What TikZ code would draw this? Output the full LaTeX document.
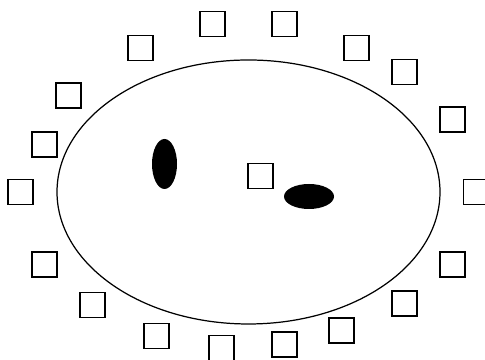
\documentclass[tikz,border=0pt]{standalone}
\usepackage{tikz}
\usetikzlibrary{shapes.geometric}
\tikzset{
  sq/.style={draw, line width=0.8pt, minimum size=0.5cm, inner sep=0pt},
  cell/.style={draw, ellipse, line width=0.7pt, minimum width=7.66cm, minimum height=5.28cm, inner sep=0pt},
  blob/.style={ellipse, fill=black, inner sep=0pt},
}

\begin{document}
\begin{tikzpicture}
  \useasboundingbox (0,0) rectangle (9.7,7.2);
  % the cell and what is inside it
  \node[cell] (body) at (4.97,3.36) {};
  \node[blob, minimum width=0.5cm, minimum height=1.0cm] (bl) at (3.29,3.92) {};
  \node[blob, minimum width=1.0cm, minimum height=0.5cm] (br) at (6.18,3.27) {};
  \node[sq] (sc) at (5.21,3.68) {};
  % ring of squares
  \node[sq] (s1) at (4.25,6.72) {};
  \node[sq] (s2) at (2.81,6.24) {};
  \node[sq] (s3) at (1.37,5.29) {};
  \node[sq] (s4) at (0.89,4.31) {};
  \node[sq] (s5) at (0.41,3.36) {};
  \node[sq] (s6) at (0.89,1.91) {};
  \node[sq] (s7) at (1.85,1.10) {};
  \node[sq] (s8) at (3.13,0.48) {};
  \node[sq] (s9) at (4.43,0.24) {};
  \node[sq] (s10) at (5.69,0.31) {};
  \node[sq] (s11) at (6.83,0.59) {};
  \node[sq] (s12) at (8.09,1.13) {};
  \node[sq] (s13) at (9.05,1.91) {};
  \node[sq] (s14) at (9.52,3.36) {};
  \node[sq] (s15) at (9.05,4.81) {};
  \node[sq] (s16) at (8.09,5.76) {};
  \node[sq] (s17) at (7.13,6.24) {};
  \node[sq] (s18) at (5.69,6.72) {};
\end{tikzpicture}
\end{document}
